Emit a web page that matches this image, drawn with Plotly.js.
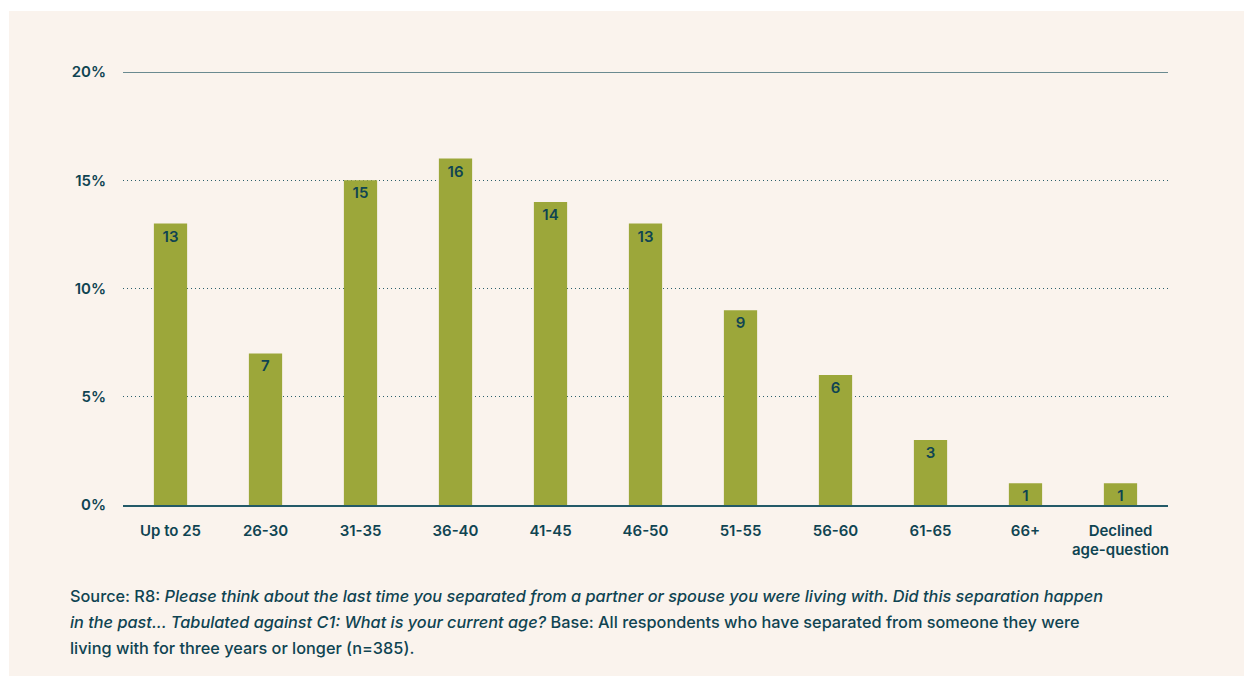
<!DOCTYPE html>
<html>
<head>
<meta charset="utf-8">
<script src="https://cdn.plot.ly/plotly-3.0.1.min.js"></script>
<style>
  html, body { margin: 0; padding: 0; background: #ffffff; }
  #panel { position: absolute; left: 9px; top: 11px; width: 1235px; height: 665px; background: #faf3ed; }
  #chart { position: absolute; left: 0; top: 0; width: 1244px; height: 676px; }
</style>
</head>
<body>
<div id="panel"></div>
<div id="chart"></div>
<script>
const categories = ["Up to 25", "26-30", "31-35", "36-40", "41-45", "46-50", "51-55", "56-60", "61-65", "66+", "Declined<br>age-question"];
const values = [13, 7, 15, 16, 14, 13, 9, 6, 3, 1, 1];
const tickValues = [0, 5, 10, 15, 20];
const tickLabels = ["0%", "5%", "10%", "15%", "20%"];
const sourceLines = [
  "Source: R8: <i>Please think about the last time you separated from a partner or spouse you were living with. Did this separation happen</i>",
  "<i>in the past... Tabulated against C1: What is your current age?</i> Base: All respondents who have separated from someone they were",
  "living with for three years or longer (n=385)."
];

const textColor = "#0f4452";
const font = "Inter, 'Open Sans', sans-serif";

const trace = {
  type: "bar",
  x: categories,
  y: values,
  marker: { color: "#9ca73a" },
  text: values.map(String),
  textposition: "inside",
  insidetextanchor: "end",
  textangle: 0,
  textfont: { family: font, size: 15, color: textColor, weight: 600 },
  hoverinfo: "none",
  width: 0.35
};

const annotations = sourceLines.map((t, i) => ({
  text: t,
  xref: "paper", yref: "paper",
  x: (68 - 123) / 1045, xanchor: "left",
  y: -(596 + 26 * i - 505) / 433, yanchor: "middle",
  showarrow: false,
  align: "left",
  font: { family: font, size: 16.3, color: textColor, weight: 500 }
}));

const layout = {
  width: 1244, height: 676,
  paper_bgcolor: "rgba(0,0,0,0)",
  plot_bgcolor: "rgba(0,0,0,0)",
  margin: { l: 123, r: 76, t: 72, b: 171 },
  showlegend: false,
  bargap: 0.65,
  uniformtext: { mode: "show", minsize: 15 },
  xaxis: {
    type: "category",
    showgrid: false,
    showline: true,
    linecolor: "#235a68",
    linewidth: 1.5,
    ticks: "",
    ticklabelstandoff: 11,
    tickfont: { family: font, size: 15, color: textColor, weight: 600 },
    fixedrange: true
  },
  yaxis: {
    range: [0, 20],
    tickvals: tickValues,
    ticktext: tickLabels,
    showgrid: true,
    gridcolor: "#2b5f6b",
    griddash: "1px,3px",
    gridwidth: 1,
    zeroline: false,
    showline: false,
    ticks: "",
    ticklabelstandoff: 16,
    tickfont: { family: font, size: 15, color: textColor, weight: 600 },
    fixedrange: true
  },
  shapes: [{
    type: "line", xref: "paper", yref: "y",
    x0: 0, x1: 1, y0: tickValues[tickValues.length - 1], y1: tickValues[tickValues.length - 1],
    line: { color: "#6a8a90", width: 2 }
  }],
  annotations: annotations
};

Plotly.newPlot("chart", [trace], layout, { displayModeBar: false, staticPlot: true });
</script>
</body>
</html>
